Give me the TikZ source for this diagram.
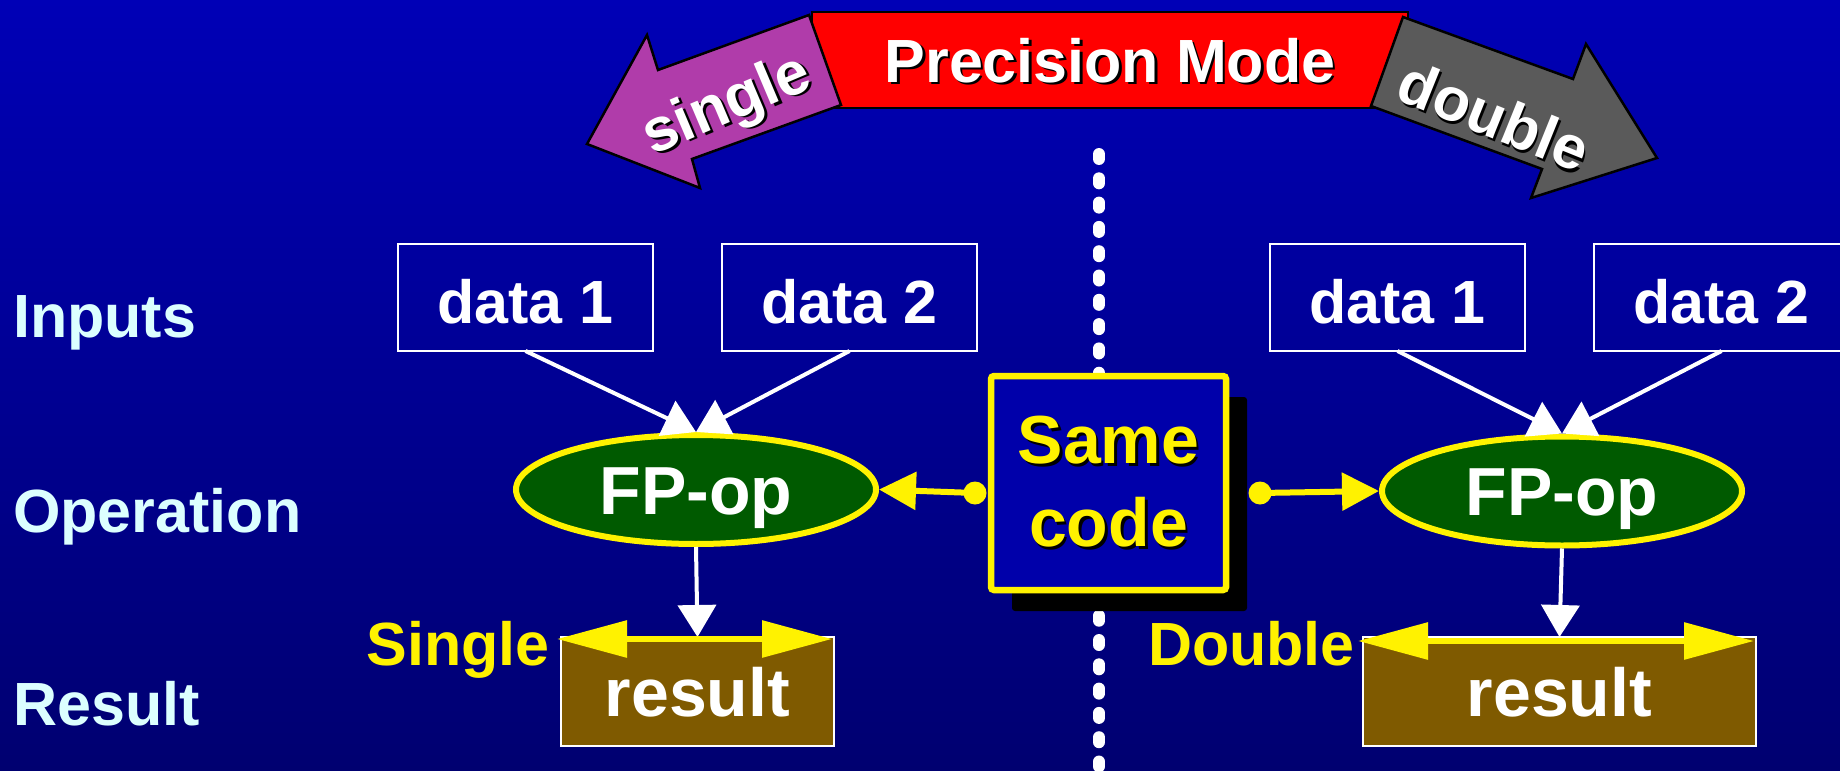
\documentclass[tikz,border=0pt]{standalone}
\usepackage{fontspec}
\setmainfont{Liberation Sans}
\usetikzlibrary{arrows.meta,shapes.geometric,shadows}

\definecolor{bgtop}{RGB}{0,0,182}
\definecolor{bgbottom}{RGB}{0,0,112}
\definecolor{labelcyan}{RGB}{220,255,255}
\definecolor{singlemag}{RGB}{176,60,170}
\definecolor{doublegray}{RGB}{90,90,90}
\definecolor{opgreen}{RGB}{0,90,0}
\definecolor{resbrown}{RGB}{127,90,0}
\definecolor{codeblue}{RGB}{0,0,170}

% text with a small black drop shadow
\newcommand\shtext[1]{\leavevmode\rlap{\kern2.5pt\raisebox{-2.5pt}{\color{black}#1}}#1}
\newcommand\bsize[1]{\fontsize{#1}{#1}\selectfont\bfseries}

\begin{document}
\begin{tikzpicture}[x=1pt,y=-1pt,
  rowlabel/.style={text=labelcyan, font=\bsize{61}, anchor=base west, inner sep=0},
  databox/.style={draw=white, line width=2pt, minimum width=255, minimum height=107,
    inner sep=0, outer sep=0, text=white, font=\bsize{61}, text height=51pt, text depth=0pt},
  fpop/.style={ellipse, draw=yellow, line width=6pt, fill=opgreen, minimum width=360,
    minimum height=109, inner sep=0, outer sep=3pt, text=white, font=\bsize{68},
    text height=49pt, text depth=0pt},
  resbox/.style={draw=white, line width=2pt, fill=resbrown, minimum height=109,
    inner sep=0, outer sep=0, text=white, font=\bsize{68}, text height=49pt, text depth=0pt},
  ydot/.style={circle, fill=yellow, minimum size=23, inner sep=0},
  warrow/.style={draw=white, line width=4pt, arrows={-Triangle[length=32pt,width=38pt]}},
  yarrow/.style={draw=yellow, line width=6pt, arrows={-Triangle[length=37pt,width=37pt]}},
  ydbl/.style={draw=yellow, line width=6pt,
    arrows={Triangle[length=70pt,width=36pt]-Triangle[length=70pt,width=36pt]}},
  modearrow/.style={draw=black, line width=2.5pt, line join=miter},
  ylabel/.style={text=yellow, font=\bsize{61}, inner sep=0}
]
\useasboundingbox (0,0) rectangle (1840,771);
\shade[top color=bgtop, bottom color=bgbottom] (0,0) rectangle (1840,771);

% dividing line between the two precision modes
\draw[white, line width=12pt, line cap=round, dash pattern=on 5pt off 19.3pt]
  (1099,154) -- (1099,771);

% precision mode banner
\node[draw=black, line width=2.5pt, fill=red, minimum width=596, minimum height=96,
  inner sep=0, text=white, font=\bsize{61}, text height=44pt, text depth=0pt]
  (mode) at (1110,60) {\shtext{Precision Mode}};
\path[modearrow, fill=singlemag]
  (809,15) -- (658,70) -- (647,35) -- (587,144) -- (700,188) -- (692,159) -- (841,105) -- cycle;
\path[modearrow, fill=doublegray]
  (1403,17) -- (1573,79) -- (1586,44) -- (1657,158) -- (1531,198) -- (1542,169) -- (1371,106) -- cycle;
\node[rotate=23, text=white, font=\bsize{61}, inner sep=0] (sgl) at (728,108) {\shtext{single}};
\node[rotate=-22, text=white, font=\bsize{61}, inner sep=0] (dbl) at (1494,117) {\shtext{double}};

% row labels
\node[rowlabel] (inputs) at (13,337) {Inputs};
\node[rowlabel] (operation) at (13,532) {Operation};
\node[rowlabel] (result) at (13,725) {Result};

% single precision side
\node[databox] (d1L) at (525.5,297.5) {data 1};
\node[databox] (d2L) at (849.5,297.5) {data 2};
\node[fpop] (fpL) at (696,489.5) {FP-op};
\node[resbox, minimum width=273] (resL) at (697.5,691.5) {result};

% double precision side
\node[databox] (d1R) at (1397.5,297.5) {data 1};
\node[databox] (d2R) at (1721.5,297.5) {data 2};
\node[fpop] (fpR) at (1562,491) {FP-op};
\node[resbox, minimum width=393] (resR) at (1559.5,691.5) {result};

% shared code
\node[draw=yellow, line width=6.5pt, fill=codeblue, minimum width=235, minimum height=214,
  rounded corners=3pt, inner sep=0, outer sep=0, align=center, text=yellow,
  font=\fontsize{68}{83}\selectfont\bfseries,
  drop shadow={shadow xshift=21pt, shadow yshift=-21pt, fill=black, opacity=1}]
  (code) at (1108.5,483) {\shtext{Same}\\\shtext{code}};
\node[ydot] (dotL) at (975,493) {};
\node[ydot] (dotR) at (1260,493) {};

% data flow
\draw[warrow] (d1L.south) -- (fpL.north);
\draw[warrow] (d2L.south) -- (fpL.north);
\draw[warrow] (d1R.south) -- (fpR.north);
\draw[warrow] (d2R.south) -- (fpR.north);
\draw[yarrow] (dotL.center) -- (fpL.east);
\draw[yarrow] (dotR.center) -- (fpR.west);
\draw[warrow] (fpL.south) -- (resL.north);
\draw[warrow] (fpR.south) -- (resR.north);

% result widths
\draw[ydbl] ([xshift=-4pt,yshift=-2pt]resL.north west) -- ([xshift=-2pt,yshift=-2pt]resL.north east);
\draw[ydbl] ([xshift=-5pt,yshift=-4pt]resR.north west) -- ([xshift=-2pt,yshift=-4pt]resR.north east);
\node[ylabel, anchor=base east] (single) at (550,665) {Single};
\node[ylabel, anchor=base east] (double) at (1355,665) {Double};
\end{tikzpicture}
\end{document}
